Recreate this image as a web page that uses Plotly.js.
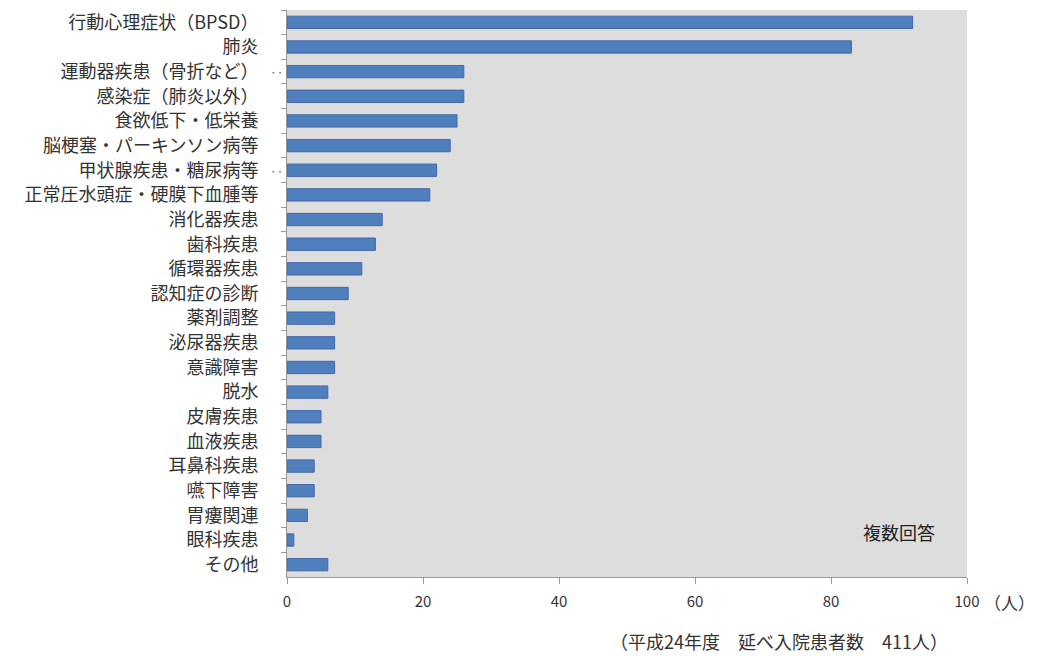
<!DOCTYPE html>
<html>
<head>
<meta charset="utf-8">
<script src="https://cdn.plot.ly/plotly-3.0.1.min.js"></script>
<style>html,body{margin:0;padding:0;background:#fff;}#chart{width:1039px;height:656px;}</style>
</head>
<body>
<div id="chart"></div>
<script>
const categories = [
  "行動心理症状（BPSD）", "肺炎", "運動器疾患（骨折など）", "感染症（肺炎以外）",
  "食欲低下・低栄養", "脳梗塞・パーキンソン病等", "甲状腺疾患・糖尿病等",
  "正常圧水頭症・硬膜下血腫等", "消化器疾患", "歯科疾患", "循環器疾患",
  "認知症の診断", "薬剤調整", "泌尿器疾患", "意識障害", "脱水", "皮膚疾患",
  "血液疾患", "耳鼻科疾患", "嚥下障害", "胃瘻関連", "眼科疾患", "その他"
];
const patients = [92, 83, 26, 26, 25, 24, 22, 21, 14, 13, 11, 9, 7, 7, 7, 6, 5, 5, 4, 4, 3, 1, 6];
const xTicks = [0, 20, 40, 60, 80, 100];
const unitLabel = "（人）";
const noteLabel = "複数回答";
const footLabel = "（平成24年度　延べ入院患者数　411人）";

const font = "'Noto Sans CJK JP', 'Noto Sans', sans-serif";

Plotly.newPlot("chart", [{
  type: "bar",
  orientation: "h",
  y: categories,
  x: patients,
  marker: {color: "#4f7fbd", line: {color: "#4467a8", width: 1}},
  hoverinfo: "x+y"
}], {
  width: 1039, height: 656,
  margin: {l: 287, r: 72, t: 10, b: 79},
  paper_bgcolor: "#ffffff",
  plot_bgcolor: "#dddddd",
  bargap: 0.5,
  showlegend: false,
  font: {family: font, size: 14, color: "#333"},
  xaxis: {
    range: [0, 100], tickvals: xTicks, ticktext: xTicks.map(String),
    showgrid: false, zeroline: false, showline: true, linecolor: "#999", linewidth: 1,
    ticks: "outside", ticklen: 6, tickcolor: "#999",
    ticklabelstandoff: 5,
    tickfont: {family: font, size: 15, color: "#333"}
  },
  yaxis: {
    type: "category", autorange: "reversed",
    showgrid: false, zeroline: false, showline: true, linecolor: "#999", linewidth: 1,
    ticks: "outside", ticklen: 5, tickcolor: "#999", tickson: "boundaries",
    ticklabelstandoff: 24,
    tickfont: {family: font, size: 18, color: "#333"}
  },
  annotations: [
    {text: unitLabel, xref: "paper", yref: "paper", x: 1.103, y: -0.045, xanchor: "right", yanchor: "middle", showarrow: false, font: {family: font, size: 17, color: "#333"}},
    {text: noteLabel, xref: "paper", yref: "paper", x: 0.956, y: 0.080, xanchor: "right", yanchor: "middle", showarrow: false, font: {family: font, size: 18, color: "#222"}},
    {text: footLabel, xref: "paper", yref: "paper", x: 0.975, y: -0.112, xanchor: "right", yanchor: "middle", showarrow: false, font: {family: font, size: 18, color: "#333"}},
    {text: "··", xref: "paper", yref: "y", x: -0.003, y: categories[2], xanchor: "right", yanchor: "middle", showarrow: false, font: {size: 12, color: "#555"}},
    {text: "··", xref: "paper", yref: "y", x: -0.003, y: categories[6], xanchor: "right", yanchor: "middle", showarrow: false, font: {size: 12, color: "#555"}}
  ]
}, {displayModeBar: false, staticPlot: true});
</script>
</body>
</html>
